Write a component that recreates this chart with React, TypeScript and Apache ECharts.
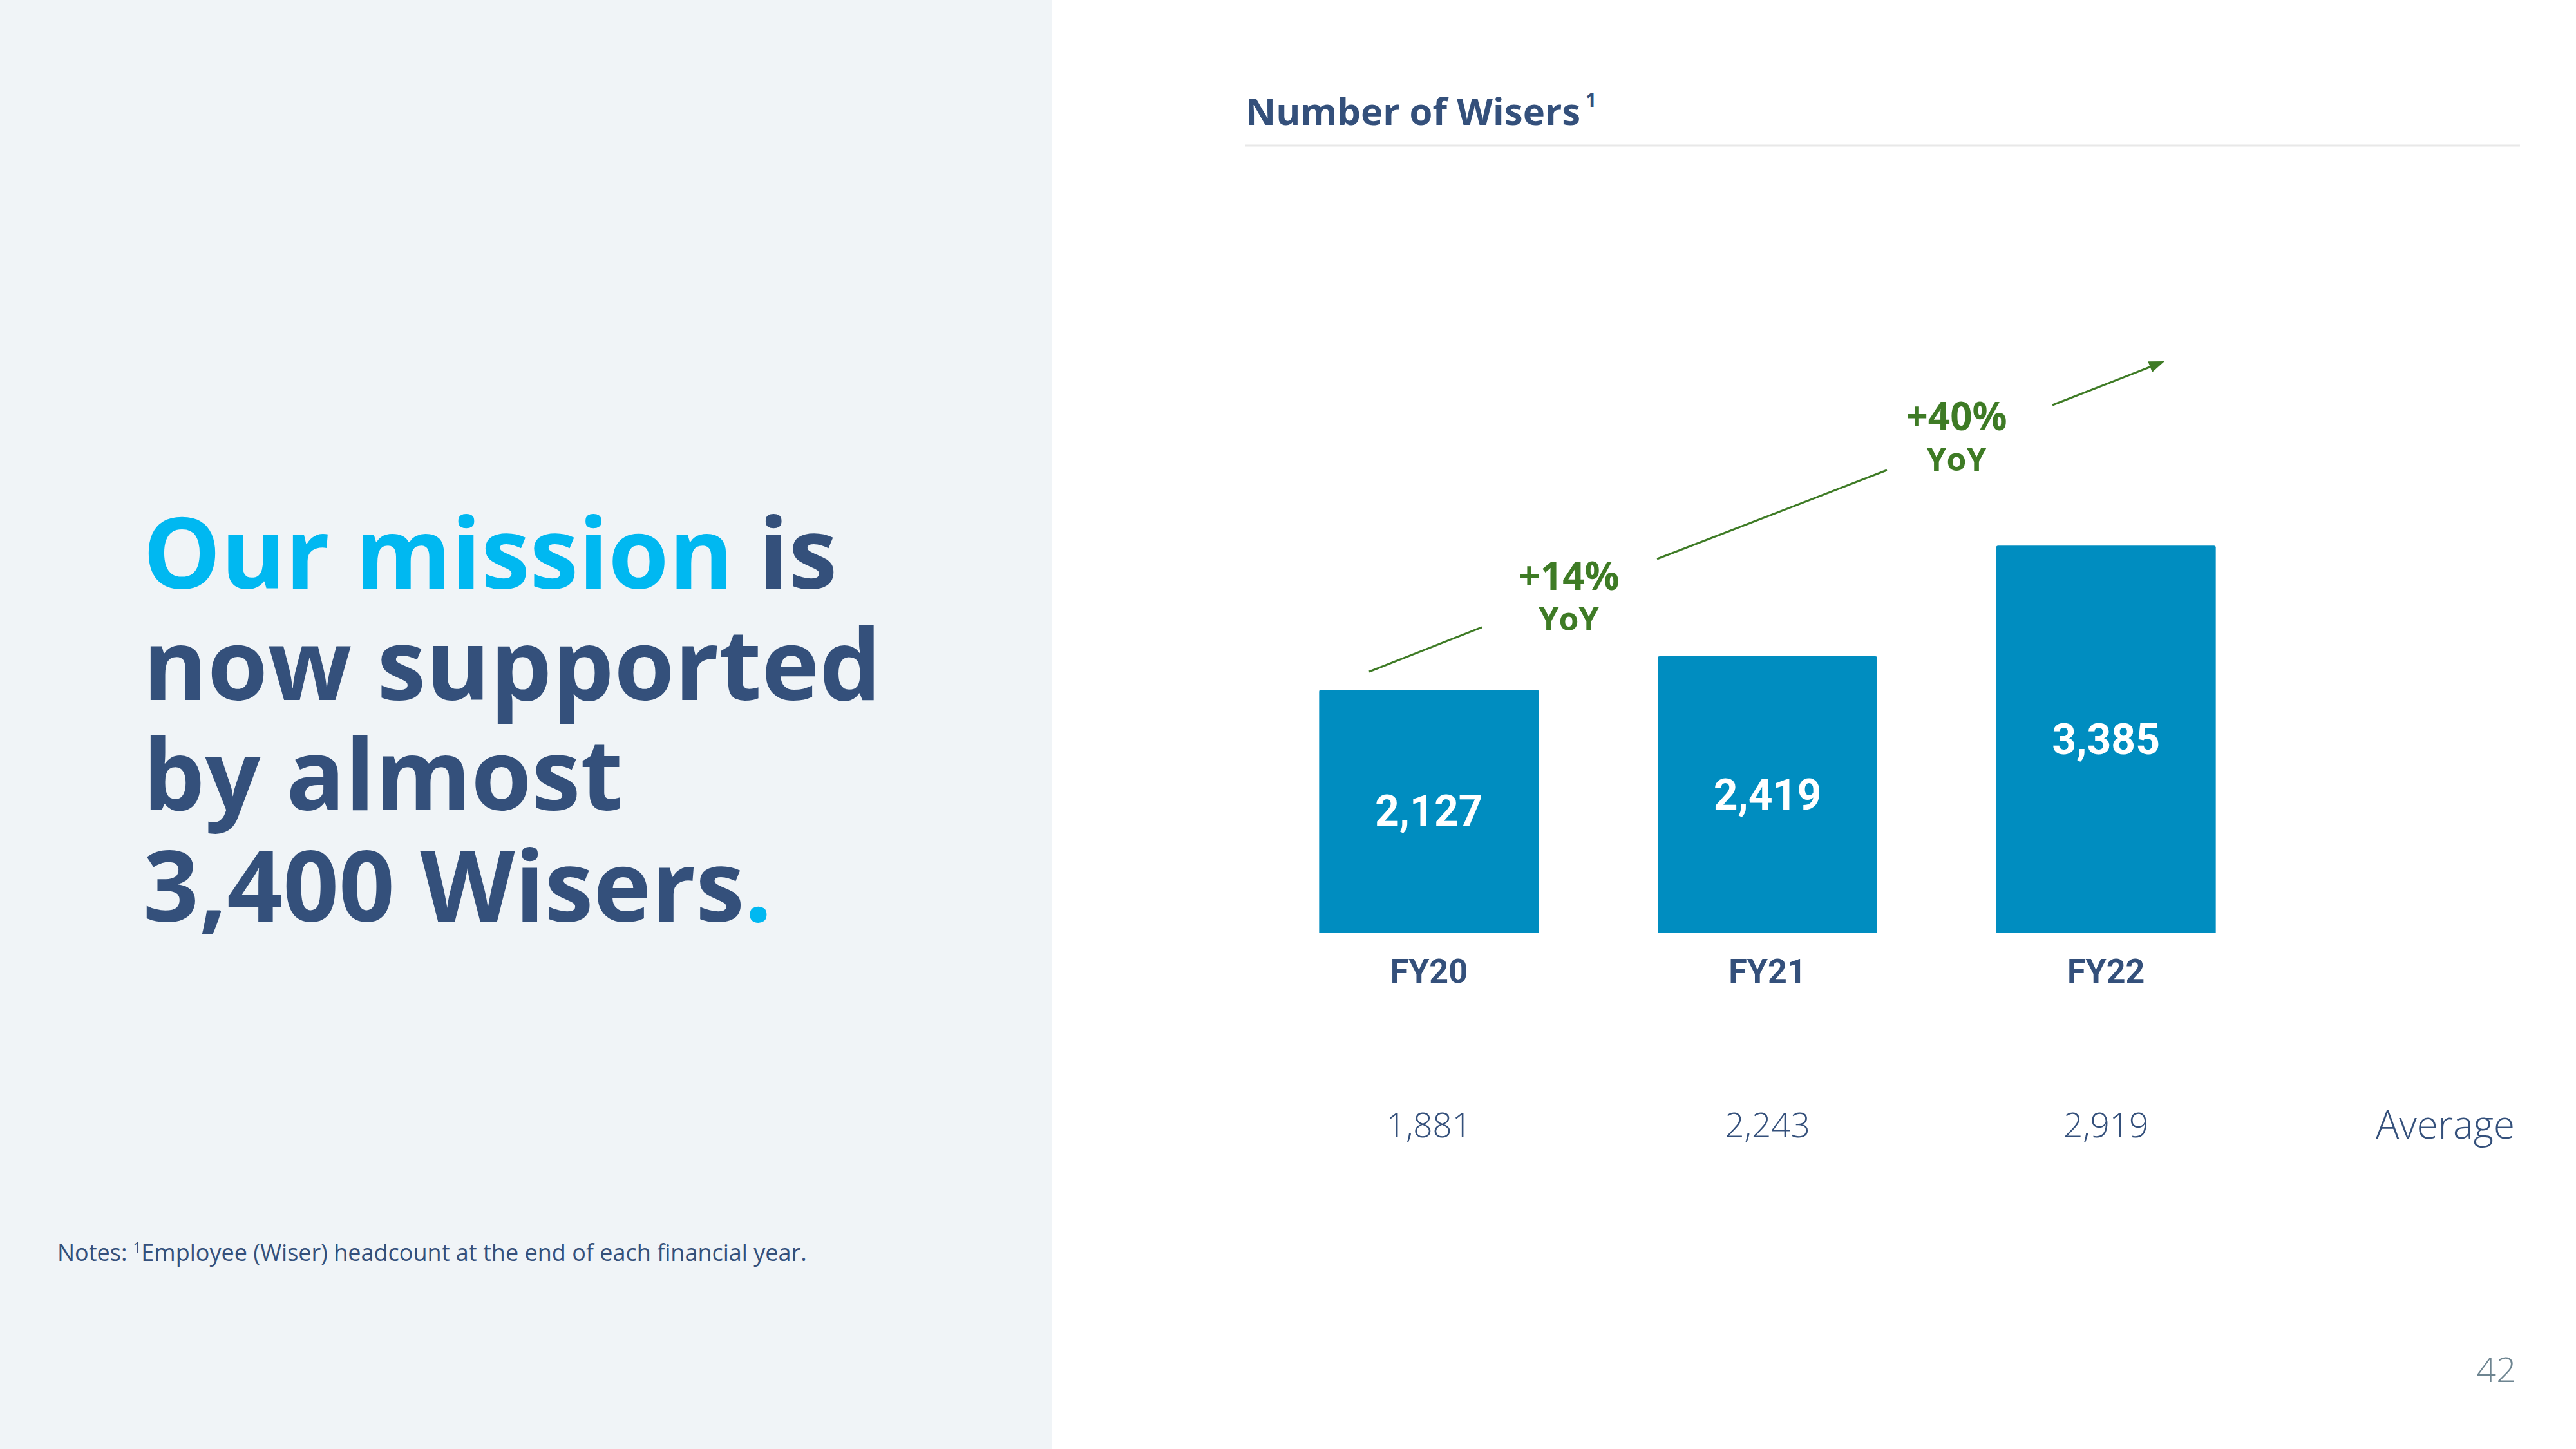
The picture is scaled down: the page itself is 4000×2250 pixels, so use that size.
import React, { useEffect, useRef } from "react";
import * as echarts from "echarts";

const categories = ["FY20", "FY21", "FY22"];
const wisers = [2127, 2419, 3385];
const averages = [1881, 2243, 2919];
const yoyLabels = ["+14%", "+40%"];
const averageLabel = "Average";
const chartTitle = "Number of Wisers";
const noteText = "Employee (Wiser) headcount at the end of each financial year.";

const NAVY = "#34507B";
const CYAN = "#00B8F1";
const GREEN = "#3E7B25";
const BAR = "#008DC0";

const fmt = (v: number) => v.toLocaleString("en-US");

export default function App() {
  const ref = useRef<HTMLDivElement>(null);
  useEffect(() => {
    if (!ref.current) return;
    const chart = echarts.init(ref.current, undefined, { renderer: "svg" });
    const sans = "'Open Sans', 'Noto Sans', sans-serif";
    const rob = "Roboto, 'Open Sans', sans-serif";

    // arrow geometry (decorative)
    const tip = [3361, 561];
    const dir = [0.931, -0.364];
    const al = 24, aw = 9;
    const base = [tip[0] - al * dir[0], tip[1] - al * dir[1]];
    const perp = [-dir[1], dir[0]];

    const H = 152;
    const headRich = {
      c: { fill: CYAN, fontFamily: sans, fontWeight: "bold", fontSize: H, lineHeight: 160 },
      n: { fill: NAVY, fontFamily: sans, fontWeight: "bold", fontSize: H, lineHeight: 160 },
    };
    const headLines = [
      "{c|Our mission}{n| is}",
      "{n|now supported}",
      "{n|by almost}",
      "{n|3,400 Wisers}{c|.}",
    ];
    const headY = [855, 1028, 1199, 1372];

    const option: any = {
      animation: false,
      backgroundColor: "#FFFFFF",
      grid: { left: 1956, width: 1577, top: 738, bottom: 801, containLabel: false },
      xAxis: [
        {
          type: "category",
          data: categories,
          axisLine: { show: false },
          axisTick: { show: false },
          axisLabel: {
            margin: 33,
            fontFamily: rob,
            fontWeight: "bold",
            fontSize: 52,
            color: NAVY,
          },
        },
        {
          type: "category",
          data: averages.map(fmt),
          position: "bottom",
          offset: 240,
          axisLine: { show: false },
          axisTick: { show: false },
          axisLabel: {
            margin: 30,
            fontFamily: sans,
            fontWeight: 300,
            fontSize: 53,
            color: NAVY,
          },
        },
      ],
      yAxis: {
        type: "value",
        min: 0,
        max: 4000,
        show: false,
        splitLine: { show: false },
      },
      series: [
        {
          type: "bar",
          data: wisers,
          barWidth: 341,
          itemStyle: { color: BAR, borderRadius: [3, 3, 0, 0] },
          label: {
            show: true,
            position: "inside",
            formatter: (p: any) => fmt(p.value),
            fontFamily: rob,
            fontWeight: "bold",
            fontSize: 66,
            color: "#FFFFFF",
          },
        },
      ],
      graphic: [
        {
          type: "rect",
          silent: true,
          z: -10,
          shape: { x: 0, y: 0, width: 1633, height: 2250 },
          style: { fill: "#F0F4F7" },
        },
        ...headLines.map((t, i) => ({
          type: "text",
          x: 222,
          y: headY[i],
          style: { text: t, verticalAlign: "middle", rich: headRich },
        })),
        {
          type: "text",
          x: 89,
          y: 1944,
          style: {
            text: "{a|Notes: }{s|1}{a|" + noteText + "}",
            verticalAlign: "middle",
            rich: {
              a: { fill: NAVY, fontFamily: sans, fontSize: 36 },
              s: { fill: NAVY, fontFamily: sans, fontSize: 22, verticalAlign: "top", padding: [0, 0, 16, 0] },
            },
          },
        },
        {
          type: "text",
          x: 1934,
          y: 171,
          style: {
            text: chartTitle,
            fill: NAVY,
            fontFamily: sans,
            fontWeight: "bold",
            fontSize: 58,
            verticalAlign: "middle",
          },
        },
        {
          type: "text",
          x: 2462,
          y: 154,
          style: {
            text: "1",
            fill: NAVY,
            fontFamily: sans,
            fontWeight: "bold",
            fontSize: 30,
            verticalAlign: "middle",
          },
        },
        {
          type: "line",
          shape: { x1: 1934, y1: 226, x2: 3913, y2: 226 },
          style: { stroke: "#E8E8E8", lineWidth: 3 },
        },
        // YoY annotations
        {
          type: "text",
          x: 2436,
          y: 893,
          style: { text: yoyLabels[0], fill: GREEN, fontFamily: sans, fontWeight: "bold", fontSize: 60, align: "center", verticalAlign: "middle" },
        },
        {
          type: "text",
          x: 2436,
          y: 960,
          style: { text: "YoY", fill: GREEN, fontFamily: sans, fontWeight: "bold", fontSize: 50, align: "center", verticalAlign: "middle" },
        },
        {
          type: "text",
          x: 3038,
          y: 645,
          style: { text: yoyLabels[1], fill: GREEN, fontFamily: sans, fontWeight: "bold", fontSize: 60, align: "center", verticalAlign: "middle" },
        },
        {
          type: "text",
          x: 3038,
          y: 712,
          style: { text: "YoY", fill: GREEN, fontFamily: sans, fontWeight: "bold", fontSize: 50, align: "center", verticalAlign: "middle" },
        },
        {
          type: "line",
          shape: { x1: 2126, y1: 1043, x2: 2301, y2: 974 },
          style: { stroke: GREEN, lineWidth: 3 },
        },
        {
          type: "line",
          shape: { x1: 2573, y1: 868, x2: 2930, y2: 730 },
          style: { stroke: GREEN, lineWidth: 3 },
        },
        {
          type: "line",
          shape: { x1: 3187, y1: 629, x2: base[0], y2: base[1] },
          style: { stroke: GREEN, lineWidth: 3 },
        },
        {
          type: "polygon",
          shape: {
            points: [
              tip,
              [base[0] + perp[0] * aw, base[1] + perp[1] * aw],
              [base[0] - perp[0] * aw, base[1] - perp[1] * aw],
            ],
          },
          style: { fill: GREEN },
        },
        {
          type: "text",
          x: 3905,
          y: 1745,
          style: { text: averageLabel, fill: NAVY, fontFamily: sans, fontWeight: 300, fontSize: 60, align: "right", verticalAlign: "middle" },
        },
        {
          type: "text",
          x: 3907,
          y: 2125,
          style: { text: "42", fill: "#6E8591", fontFamily: sans, fontWeight: 300, fontSize: 54, align: "right", verticalAlign: "middle" },
        },
      ],
    };
    chart.setOption(option);
    return () => chart.dispose();
  }, []);
  return (
    <div
      ref={ref}
      style={{ position: "fixed", left: 0, top: 0, width: 4000, height: 2250 }}
    />
  );
}
